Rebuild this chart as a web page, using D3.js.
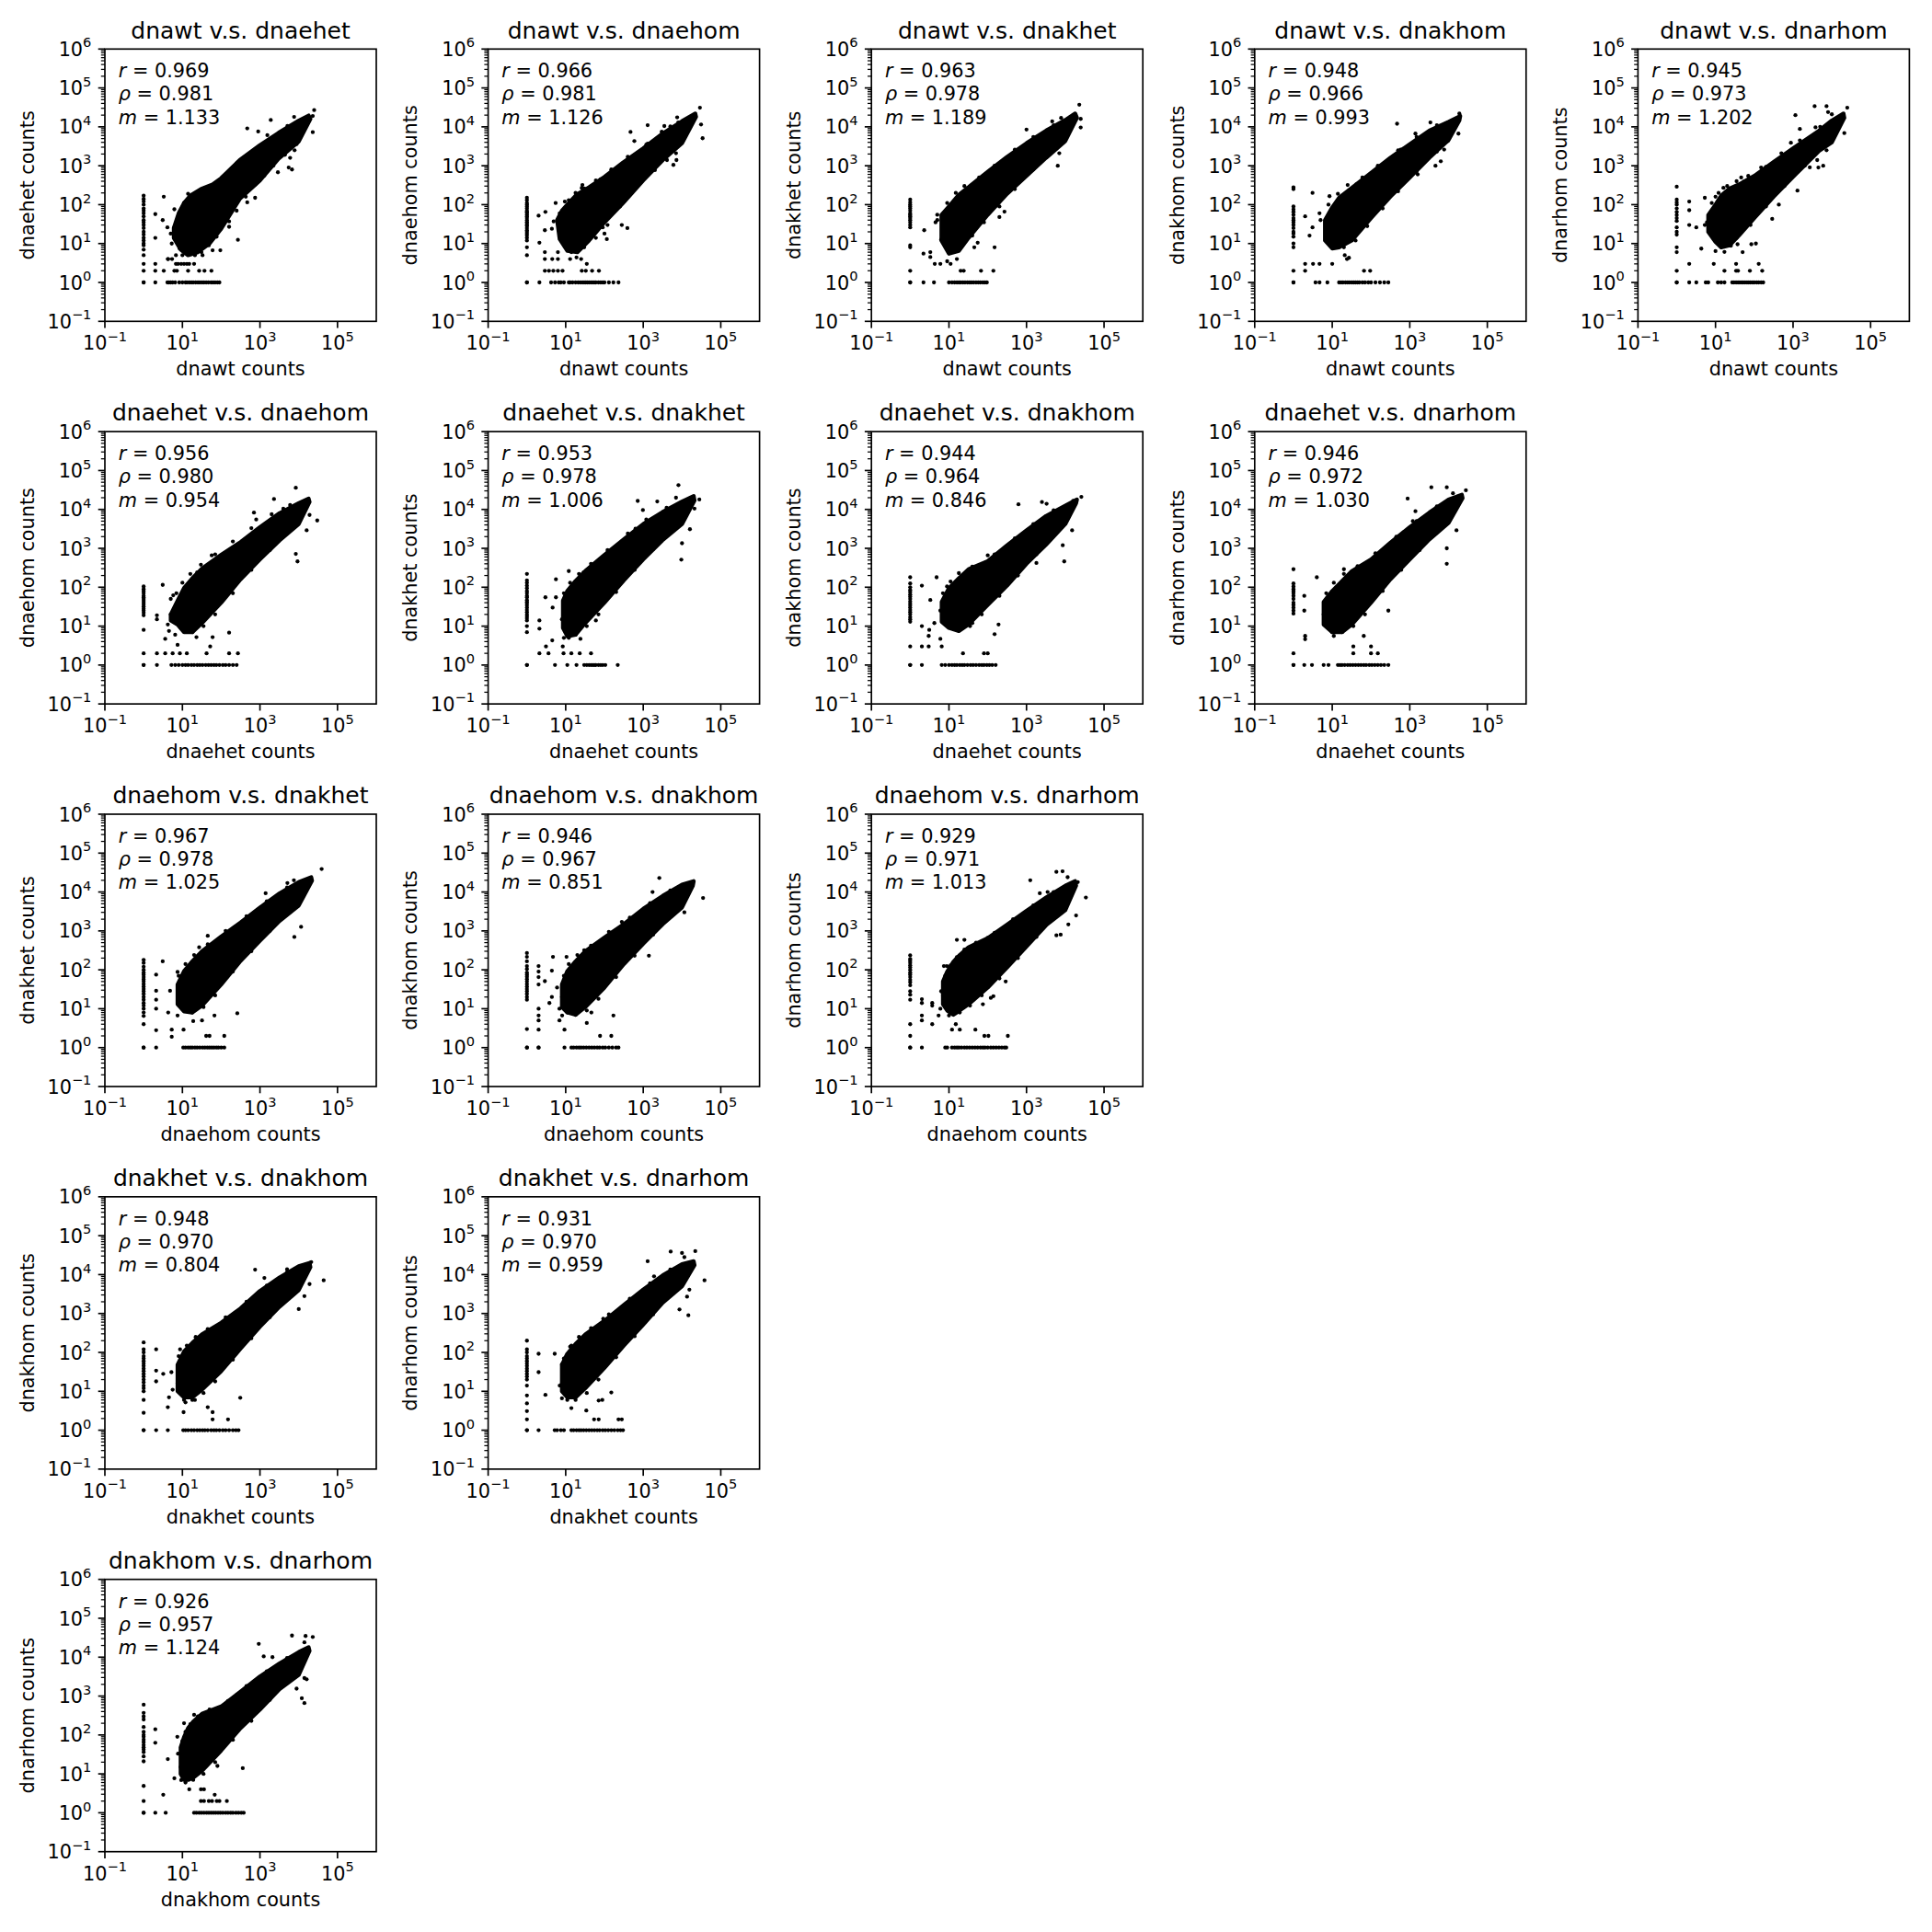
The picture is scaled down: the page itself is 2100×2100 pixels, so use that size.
<!DOCTYPE html>
<html><head><meta charset="utf-8">
<script src="https://cdn.jsdelivr.net/npm/d3@7"></script>
<style>body{margin:0;background:#fff} text{font-family:"DejaVu Sans";fill:#000}</style>
</head><body>
<svg id="chart" width="2100" height="2100" xmlns="http://www.w3.org/2000/svg"></svg>
<script>
// ---------------- data ----------------
const xNames = ["dnawt","dnawt","dnawt","dnawt","dnawt","dnaehet","dnaehet","dnaehet","dnaehet","dnaehom","dnaehom","dnaehom","dnakhet","dnakhet","dnakhom"];
const yNames = ["dnaehet","dnaehom","dnakhet","dnakhom","dnarhom","dnaehom","dnakhet","dnakhom","dnarhom","dnakhet","dnakhom","dnarhom","dnakhom","dnarhom","dnarhom"];
const rVals   = [0.969,0.966,0.963,0.948,0.945,0.956,0.953,0.944,0.946,0.967,0.946,0.929,0.948,0.931,0.926];
const rhoVals = [0.981,0.981,0.978,0.966,0.973,0.980,0.978,0.964,0.972,0.978,0.967,0.971,0.970,0.970,0.957];
const mVals   = [1.133,1.126,1.189,0.993,1.202,0.954,1.006,0.846,1.030,1.025,0.851,1.013,0.804,0.959,1.124];
const panelRow = [0,0,0,0,0,1,1,1,1,2,2,2,3,3,4];
const panelCol = [0,1,2,3,4,0,1,2,3,0,1,2,0,1,0];
const yTickVals = [0.1,1,10,100,1e3,1e4,1e5,1e6];
const xTickVals = [0.1,10,1e3,1e5];

// dense core of each point cloud (outline, in counts)
const denseCore = [
 [[6,25],[8,60],[11,110],[16,170],[30,250],[60,330],[100,480],[300,1400],[1000,3400],[3000,7000],[10000,14500],[18000,19500],[20000,16000],[10000,4200],[3000,1500],[1000,420],[300,140],[100,24],[50,10],[25,6],[14,5],[9,7],[6,14]],
 [[6,40],[8,70],[11,100],[19,180],[40,280],[100,520],[300,1200],[1000,2800],[3200,6800],[10000,14000],[22000,22000],[23000,18000],[10000,3800],[3200,1400],[1000,420],[300,110],[100,35],[40,12],[20,6],[11,6.5],[7,13]],
 [[6.4,54],[10,90],[18,180],[32,280],[100,700],[316,1700],[1000,3800],[3200,8000],[10000,15000],[18000,22000],[20000,17000],[10000,4300],[3200,1600],[1000,550],[316,190],[100,55],[32,14],[18,6.5],[10,5.5],[6.4,12]],
 [[6.5,40],[10,85],[15,150],[32,270],[100,650],[316,1600],[1000,3600],[3200,8000],[10000,13500],[20000,19000],[19000,14500],[10000,4600],[3200,1600],[1000,500],[316,160],[100,45],[32,12],[15,8],[10,7.5],[6.5,12]],
 [[6.5,54],[10,100],[14,170],[23,260],[40,330],[100,550],[316,1250],[1000,2800],[4700,8000],[10000,14500],[20000,22000],[21000,17000],[10000,4000],[4700,2400],[1000,520],[316,160],[100,45],[40,16],[23,9],[14,8],[10,11],[6.5,20]],
 [[5,20],[7.5,45],[11,95],[18,170],[32,300],[100,680],[316,1450],[1000,3500],[3200,8000],[10000,14500],[18000,19000],[19000,15500],[10000,4200],[3200,1600],[1000,520],[316,160],[100,40],[32,12],[18,7],[11,7],[7.5,11],[5,14]],
 [[8.5,45],[11,80],[18,145],[32,260],[100,680],[316,1700],[1000,4200],[3100,8500],[10000,16000],[20000,22000],[21000,17000],[10000,4200],[3100,1600],[1000,520],[316,150],[100,40],[32,12],[18,6],[11,5.5],[8.5,9]],
 [[6.5,42],[10,95],[18,170],[32,290],[100,470],[316,1200],[1000,2900],[3200,6800],[10000,12500],[20000,18000],[19000,14500],[10000,4200],[3200,1250],[1000,400],[316,110],[100,35],[32,11],[18,7.5],[10,9],[6.5,13]],
 [[6,42],[10,80],[18,145],[32,260],[100,520],[316,1400],[1000,3500],[3200,8300],[10000,18000],[22000,24000],[23000,19500],[10000,4500],[3200,1700],[1000,520],[316,160],[100,40],[32,11],[18,7],[10,7],[6,11]],
 [[7.5,42],[11,92],[18,165],[32,300],[100,720],[316,1650],[1000,4000],[3200,9200],[10000,18000],[21000,24000],[22000,19500],[10000,4500],[3200,1800],[1000,560],[316,170],[100,42],[32,12],[18,8],[11,8.5],[7.5,13]],
 [[8,42],[11,92],[18,165],[32,300],[100,680],[316,1500],[1000,3700],[3200,8000],[10000,15500],[20000,19000],[19000,14500],[10000,4000],[3200,1500],[1000,470],[316,140],[100,35],[32,11],[18,7],[11,8],[8,11]],
 [[7,50],[9,90],[13,160],[19,240],[32,380],[100,650],[316,1450],[1000,3300],[3200,7200],[10000,14500],[18000,19000],[19000,14500],[10000,3400],[3200,1400],[1000,400],[316,115],[100,35],[32,13],[19,9],[13,7],[9,9],[7,13]],
 [[7.5,48],[11,105],[18,175],[32,290],[100,580],[316,1350],[1000,3800],[3200,8400],[10000,16500],[19000,20000],[20000,15500],[10000,4000],[3200,1500],[1000,460],[316,125],[100,33],[32,11],[18,7],[11,7],[7.5,10]],
 [[8,48],[11,92],[18,165],[32,290],[100,650],[316,1650],[1000,4100],[3200,9600],[10000,18500],[20000,22000],[21000,17500],[10000,5000],[3200,1900],[1000,520],[316,150],[100,40],[32,12],[18,7],[11,7],[8,10]],
 [[9,48],[11,88],[14,150],[19,220],[32,350],[100,540],[316,1300],[1000,3200],[3200,6900],[10000,13500],[18000,18000],[19000,14500],[10000,3500],[3200,1500],[1000,450],[316,150],[100,40],[32,12],[19,8],[14,7],[11,7],[9,10]]
];

// points scattered just outside the dense core [x, y]
const edgePts = [
 [[18,170],[30,200],[57,300],[85,380],[130,520],[220,770],[360,950],[620,1550],[1080,2400],[1900,4000],[3300,5400],[6100,8800],[8800,3600],[4400,1900],[2200,1000],[1300,560],[760,330],[430,160],[250,70],[160,37],[76,15],[48,9],[31,6],[7,15],[6.2,26],[8.5,55]],
 [[12,130],[18,200],[30,260],[60,420],[150,800],[400,1700],[1200,3500],[3000,7500],[8000,13000],[15000,12000],[5000,2600],[2000,1000],[600,260],[250,90],[120,30],[60,14],[30,8],[15,8],[8,25],[7,60]],
 [[9,110],[15,200],[25,300],[60,500],[150,1000],[500,2600],[1500,5500],[5000,11000],[12000,9000],[4000,2000],[1500,800],[500,250],[200,90],[80,35],[40,16],[20,9],[12,7],[7,20],[5,40]],
 [[8,100],[14,190],[25,320],[60,500],[150,1000],[500,2500],[1500,5500],[5000,11000],[14000,9500],[5000,2300],[1500,700],[500,220],[200,80],[80,28],[40,12],[20,8],[12,9],[7,20],[5,40]],
 [[8,110],[12,200],[20,300],[35,400],[70,550],[150,900],[500,2100],[1500,4500],[5000,10000],[13000,10000],[6000,3000],[2000,1000],[600,300],[200,90],[80,30],[35,14],[18,9],[9,14],[6,35]],
 [[7,70],[10,130],[16,220],[30,380],[70,700],[200,1500],[600,3300],[2000,7500],[6000,13000],[14000,10000],[5000,2800],[1800,900],[600,280],[200,70],[70,20],[35,10],[18,7],[9,9],[5,20]],
 [[9,70],[13,130],[22,220],[45,400],[120,900],[400,2400],[1200,5500],[4000,11000],[15000,11000],[5000,2700],[1800,950],[600,280],[200,75],[70,20],[35,10],[18,6],[12,5],[8,15]],
 [[7,70],[11,140],[18,230],[40,340],[150,700],[500,1800],[1500,4200],[5000,9500],[14000,9000],[5000,2200],[1800,700],[600,200],[200,60],[70,20],[35,10],[18,8],[10,10],[6,25]],
 [[7,70],[11,130],[20,220],[45,350],[130,750],[450,2000],[1500,5000],[5000,12000],[15000,12000],[5000,2800],[1800,900],[600,280],[200,80],[70,20],[35,10],[18,7],[10,7],[6,20]],
 [[8,70],[12,140],[20,240],[45,450],[130,1000],[450,2400],[1500,5800],[5000,13000],[15000,11000],[5000,2800],[1800,1000],[600,300],[200,90],[70,22],[35,11],[18,8],[11,9],[8,22]],
 [[9,70],[12,140],[20,240],[45,420],[130,950],[450,2200],[1500,5200],[5000,11000],[14000,9000],[5000,2500],[1800,800],[600,230],[200,65],[70,18],[35,9],[18,7],[11,8],[8,20]],
 [[8,70],[11,130],[16,210],[25,330],[50,500],[150,900],[450,2000],[1500,4500],[5000,10000],[14000,9000],[5000,2200],[1800,700],[600,200],[200,60],[70,22],[35,12],[19,8],[10,9],[7,22]],
 [[8,80],[13,150],[22,250],[45,400],[130,800],[450,2000],[1500,5200],[5000,11500],[14000,10000],[5000,2400],[1800,800],[600,230],[200,65],[70,18],[35,9],[18,6],[11,6],[7.5,16]],
 [[9,70],[13,140],[22,250],[45,420],[130,950],[450,2400],[1500,6000],[5000,13500],[15000,11000],[5000,3000],[1800,950],[600,260],[200,75],[70,20],[35,9],[18,6],[11,6],[8,16]],
 [[10,70],[12,120],[16,190],[25,300],[50,450],[150,750],[450,1800],[1500,4300],[5000,9500],[14000,9000],[5000,2300],[1800,800],[600,230],[200,75],[70,20],[35,10],[19,7],[12,6],[9,15]]
];

// individual outlying points [x, y]
const scatterPts = [
 [[470,9100],[900,7600],[1900,15000],[1550,6100],[7600,18000],[5100,10500],[8300,3700],[7800,2500],[6000,1600],[6700,800],[2900,680],[5500,900],[23000,7300],[25000,27000],[23000,19000],[250,840],[140,490],[52,270],[14,190],[20,150],[3.3,160],[2,57],[6.2,76],[11,110],[4.1,26],[2,14],[3.1,40],[5,18],[5.3,10],[8,10],[8.5,7.4],[270,12.5],[160,27],[95,6.7],[60,6.7],[33,5],[21,5],[10,5],[4.2,4],[6.8,5],[11,7.4],[140,66],[470,115],[750,150],[2,3],[6.8,3],[7.7,3],[9.3,3],[11,3],[13,3],[15,3],[20,3],[2,2],[3.3,2],[6.2,2],[7.2,2],[14,2],[27,2],[37,2],[56,2],[4.3,4],[5.4,4]],
 [[470,7400],[590,4300],[1300,11000],[1300,3700],[3500,10500],[5000,10200],[7500,17500],[29000,31000],[31000,11500],[34000,5100],[7000,2100],[7200,1400],[6000,1050],[4100,1400],[2000,770],[280,30],[390,25],[100,18],[115,13],[13,18],[14,6],[19,4.4],[35,3],[26,270],[27,320],[80,450],[280,580],[5.5,110],[9.5,120],[3,65],[2,52],[2.1,10.5],[2.9,22],[4.4,24],[4.9,37],[7,44],[10,10],[90,26],[2.9,2],[3.7,2],[4.8,2],[6.3,2],[8.3,2],[26,2],[33,2],[48,2],[72,2],[2.9,4],[4.5,4],[6.3,4],[13,4],[25,4],[2.9,6],[6.3,6]],
 [[1000,8500],[750,3000],[320,910],[150,480],[20,160],[7800,17000],[23000,37000],[25000,16000],[25000,9600],[4600,13800],[6400,1000],[7000,2100],[8200,4300],[270,66],[200,48],[2.3,22],[4.5,35],[5,55],[6.3,12.6],[55,10.5],[150,8],[45,8],[2.2,5.5],[3.3,6],[3.3,4.5],[6,3],[11,3],[4.3,3],[16,4],[9,3.5],[20,2],[24,2],[67,2],[140,2]],
 [[66,2],[95,2],[2,3],[3.2,3],[4.7,3],[10,3],[27,4.3],[2.6,16],[3.1,26],[2,50],[3.1,200],[8.5,165],[4.7,60],[21,5],[24,4],[470,12000],[1400,6700],[1600,4300],[3400,13000],[580,2600],[260,1000],[100,480],[42,330],[19000,22000],[18000,6700],[9600,4300],[7700,2600],[6300,1300],[4600,1000],[1600,600],[2,2]],
 [[2.1,120],[2.1,72],[2.1,30],[3.2,26],[5.3,150],[4.3,7.4],[5.3,30],[10,160],[16,270],[10,6.4],[17,6.1],[25,8.8],[50,6],[84,9.6],[110,10],[37,9.6],[34,14],[1150,20000],[1500,8800],[3600,34000],[7300,34000],[8000,24000],[10000,21000],[25000,31000],[21000,6900],[3800,9700],[880,3900],[300,870],[200,930],[46,500],[54,390],[7300,2500],[6000,1000],[4200,1400],[4500,900],[2700,910],[1300,230],[290,43],[430,100],[17,2],[34,2],[38,2],[77,2],[160,2],[2.1,3],[9,3],[34,3],[130,3]],
 [[2.2,19],[2.2,15],[3.1,115],[5,50],[4.2,11],[4.5,7.5],[6.5,6],[8.6,10],[13,8.2],[23,5.2],[60,5.2],[52,3],[160,6.8],[700,8300],[800,5500],[2300,18500],[4000,10400],[8400,36000],[8400,720],[9300,460],[16000,2900],[30000,5200],[19000,7200],[57,660],[24,240],[5.8,62],[3.6,4.7],[7.5,3.3],[2.2,2],[3.6,2],[5.6,2],[8.6,2],[13,2],[42,2],[160,2],[270,2]],
 [[2.1,2],[3.6,2],[8.8,2],[14,2],[23,2],[45,2],[3.1,3],[8.4,3],[4.5,4.3],[9,5],[24,4.7],[2.1,14],[2.1,8.6],[3,55],[5.6,55],[4.6,30],[12,260],[29,240],[5.6,160],[60,14],[720,16500],[980,9600],[2300,16000],[2700,2900],[630,3200],[8100,42000],[7000,20000],[28000,18000],[21000,10500],[16000,3100],[10000,1350],[9600,510]],
 [[23,2],[80,2],[100,2],[2,10],[2,3],[3,3],[3,5.6],[3.1,8],[6,4.7],[6.5,3],[4.2,12],[2,110],[4.8,180],[3.3,47],[8.9,105],[150,6.2],[190,11],[40,12],[620,13500],[2500,15500],[3300,14000],[26000,21000],[16000,16500],[15000,2900],[8600,1200],[9400,460],[1800,420],[100,660]],
 [[35,2],[100,2],[150,2],[35,3],[100,3],[2,5.6],[2,4.6],[65,5.6],[11,5.6],[1.9,60],[1.9,25],[4,180],[20,290],[880,19000],[1400,9000],[3600,37000],[9000,37000],[13000,26000],[28000,31000],[8000,12000],[1200,5000],[130,600],[16000,2900],[9000,1000],[9000,400],[280,25]],
 [[41,2],[50,2],[120,2],[2.1,75],[2.1,29],[2.1,17],[2.1,10],[2.1,2.8],[3.1,165],[4.8,29],[4.3,8],[5.3,2.9],[5.3,1.9],[7.5,6.7],[10.7,2.9],[19,4.8],[32,5],[67,6.7],[260,7.6],[7.5,88],[27,380],[45,750],[1400,9300],[5100,17000],[7500,20000],[39000,39000],[11500,1270],[7700,700],[140,260]],
 [[2,125],[2,90],[2,65],[2,42],[2,10],[2,6.7],[2,5],[2,2.9],[2,1],[77,2],[150,2],[9.3,2.9],[35,4.3],[4.7,215],[10.5,215],[4.4,95],[2.9,51],[6,35],[4.4,20],[3.8,14],[6.9,10],[8.1,6.7],[6.9,5],[170,6.7],[46,8],[2600,23000],[1740,10000],[280,1700],[170,700],[30,320],[35000,7000],[10000,4400],[11500,3000],[1400,230]],
 [[2,17.6],[2,14],[2,6.7],[2,5],[82,2],[104,2],[330,2],[12,2.9],[19,2.9],[48,2.9],[15,4],[3.7,14],[3.7,12],[3.7,4],[5.4,6.7],[10,6.7],[6,10],[7.4,125],[8.8,125],[16,590],[25,590],[28,290],[8.8,80],[6.3,28],[75,13],[120,19],[140,21],[290,50],[1250,20000],[2200,9300],[3500,10000],[5900,33000],[8500,34000],[11500,24000],[21000,18000],[34000,7200],[19000,2500],[12000,1470],[7600,800],[5900,770],[1100,3200],[380,1400],[180,700],[100,660]],
 [[60,1.9],[150,1.9],[2.1,120],[2.1,34],[2.1,18],[4.5,7],[4.2,3.9],[10.7,2.9],[12,5.2],[21,6],[45,3.9],[60,2.9],[310,6.8],[5.6,11],[5.2,31],[3.2,28],[8.7,120],[24,230],[750,13400],[1300,8200],[5000,13600],[21000,21000],[44000,7100],[19000,5700],[14000,2800],[10000,1300],[120,520]],
 [[54,1.9],[71,1.9],[230,1.9],[280,1.9],[2,92],[2,31],[3,8.1],[7,14],[8,6.6],[14,3.7],[26,10],[34,3.2],[71,5.8],[88,6],[150,9.3],[5.2,92],[8,49],[14,150],[93,730],[1300,22000],[1900,9000],[5100,39000],[10000,36000],[11500,28000],[22000,40000],[38000,7100],[15500,4100],[13500,2700],[8600,1270],[14600,900]],
 [[2,140],[2,63],[30,2],[36,2],[48,2],[58,2],[77,2],[90,2],[140,2],[3.2,2.9],[68,2.9],[15,4],[30,4],[36,4],[4.2,24],[6.2,7.7],[9.3,6.9],[7.4,90],[11,200],[20,330],[31,310],[80,16],[360,14],[7.7,33],[930,22000],[1250,10500],[2100,10000],[6700,36000],[15000,35000],[23000,33000],[14000,24000],[14000,2900],[16000,2700],[8800,1550],[12000,880],[14000,660]]
];

// y values of points with x = 1
const zeroColumn = [
 [1,2,3,5,7,9,10,12,14,17,20,25,30,35,40,50,60,70,80,100,120,140,170],
 [1,5,8,12,14,16,18,20,22,25,28,30,33,36,40,45,50,55,60,65,70,80,90,100,110,130,150],
 [1,2,8,9,26,30,35,40,45,50,55,60,70,80,90,100,115,135],
 [1,2,8,10,15,18,20,25,30,35,40,45,55,65,75,90,250,280],
 [1,2,6,8,17,20,26,38,45,54,65,80,100,115,135,290],
 [1,2,8,19,22,25,28,32,36,40,45,50,55,60,70,80,90,105],
 [1,7,10,14,16,18,20,23,26,30,34,38,42,47,55,60,70,80,95,110,130,150,220],
 [1,3,13,15,17,20,23,26,30,34,38,43,50,57,65,75,85,100,125,180],
 [1,2,21,25,30,35,40,50,60,70,80,90,105,125,290],
 [1,4,6.5,8,10,12,14,17,20,24,28,32,37,43,50,57,65,75,85,100,120,150,180],
 [1,3,17,20,24,28,32,37,43,50,58,66,75,85,105,125,165,215,270],
 [1,2,4,17,23,28,40,48,55,65,75,85,100,115,130,150,170,190,235],
 [1,2.8,6,10,12,14,17,20,24,28,33,38,45,52,60,70,80,100,120,180],
 [1,1.9,3.1,4.9,7.8,14,20,24,28,33,38,45,52,60,70,80,100,120,200],
 [1,2,4.9,21,28,36,42,48,55,65,76,90,100,120,160,250,300,370,600]
];

// x values of points with y = 1
const oneRow = [
 [1,2,4.1,4.5,5,5.6,6.5,8.3,10,12,13,15,17,19,22,25,28,32,36,41,47,55,62,70,80,90],
 [1,2.1,4.2,5.3,6.6,7.5,9,12,13,15,18,21,24,27,30,33,36,40,45,50,55,60,70,80,90,100,130,170,230],
 [1,2.2,4.1,10,12,14,16,18,20,23,26,30,34,38,43,50,57,65,75,85,95],
 [1,3.7,4.7,7.5,15,17,19,22,25,28,32,36,40,45,50,60,70,85,100,130,170,220,280],
 [1,2.1,3.2,5.6,6.5,11.5,14,17,27,30,34,38,42,47,52,58,65,72,80,90,100,115,130,150,170],
 [1,2.2,5.2,6.5,8,10,12,14,17,20,24,28,33,40,47,55,65,75,90,110,130,160,200,250],
 [1,5.3,11,19,30,35,40,45,50,55,60,70,80,90,105,220],
 [1,2,6.5,8,10,12,14,16,19,22,25,30,36,42,50,60,70,80,95,110,130,160],
 [1,1.9,3,6,8,14,16,18,21,25,29,34,40,47,55,65,75,90,105,125,150,180,220,280],
 [1,2.1,10.5,12,14,16,18,21,24,28,33,38,44,50,57,65,75,85,100,120],
 [1,2,9.3,14,16,19,22,25,29,34,40,47,55,65,75,90,105,130,160,200,230],
 [1,2,8,9,12,14,16,18,21,25,29,34,40,47,55,65,75,85,100,120,140,165,195,230,270,300],
 [1,2.1,4.2,10.5,12,14,17,20,24,28,33,38,45,55,65,75,90,110,130,160,200,240,280],
 [1,2,5.2,6,7.5,9,14,16,19,22,25,29,34,40,47,55,65,75,90,105,125,150,180,220,260,300],
 [1,2,3.7,20,23,27,31,36,42,48,55,63,72,83,95,110,130,150,175,200,240,280,330,380]
];

// ---------------- drawing ----------------
const svg = d3.select("#chart");
const W = 295, H = 296;
const colStep = 416.6, rowStep = 415.85, left0 = 114, top0 = 53.3;
const FS = 20.8, SUP = 14.6, LW = 1.67, DOT = 2.15;

const x = d3.scaleLog().domain([0.1, 1e6]).range([0, W]);
const y = d3.scaleLog().domain([0.1, 1e6]).range([H, 0]);
const exp = v => Math.round(Math.log10(v));
const supText = v => { const e = exp(v); return e < 0 ? "\u2212" + Math.abs(e) : String(e); };
const line = d3.line().x(d => x(d[0])).y(d => y(d[1])).curve(d3.curveLinearClosed);

function tickLabel(sel, v) {
  sel.append("tspan").text("10");
  sel.append("tspan").attr("font-size", SUP).attr("dy", -9.5).text(supText(v));
}

xNames.forEach((xn, i) => {
  const L = left0 + panelCol[i] * colStep, T = top0 + panelRow[i] * rowStep;
  const g = svg.append("g").attr("transform", `translate(${L},${T})`);

  // data marks
  const plot = g.append("g");
  plot.append("path").datum(denseCore[i]).attr("d", line)
    .attr("fill", "#000").attr("stroke", "#000").attr("stroke-width", DOT * 2).attr("stroke-linejoin", "round");
  const pts = edgePts[i]
    .concat(scatterPts[i])
    .concat(zeroColumn[i].map(v => [1, v]))
    .concat(oneRow[i].map(v => [v, 1]));
  plot.selectAll("circle").data(pts).join("circle")
    .attr("cx", d => x(d[0])).attr("cy", d => y(d[1])).attr("r", DOT).attr("fill", "#000");

  // y axis ticks
  const yMinor = [];
  for (let e = -1; e < 6; e++) for (let k = 2; k <= 9; k++) yMinor.push(k * Math.pow(10, e));
  g.selectAll("line.ymin").data(yMinor).join("line").attr("class", "ymin")
    .attr("x1", -4.2).attr("x2", 0).attr("y1", d => y(d)).attr("y2", d => y(d))
    .attr("stroke", "#000").attr("stroke-width", 1.25);
  g.selectAll("line.ymaj").data(yTickVals).join("line").attr("class", "ymaj")
    .attr("x1", -7.3).attr("x2", 0).attr("y1", d => y(d)).attr("y2", d => y(d))
    .attr("stroke", "#000").attr("stroke-width", LW);
  g.selectAll("text.ylab").data(yTickVals).join("text").attr("class", "ylab")
    .attr("x", -14.6).attr("y", d => y(d) + 7.6).attr("text-anchor", "end").attr("font-size", FS)
    .each(function(d) { tickLabel(d3.select(this), d); });

  // x axis ticks
  g.selectAll("line.xmaj").data(xTickVals).join("line").attr("class", "xmaj")
    .attr("y1", H).attr("y2", H + 7.3).attr("x1", d => x(d)).attr("x2", d => x(d))
    .attr("stroke", "#000").attr("stroke-width", LW);
  g.selectAll("text.xlab").data(xTickVals).join("text").attr("class", "xlab")
    .attr("x", d => x(d)).attr("y", H + 31).attr("text-anchor", "middle").attr("font-size", FS)
    .each(function(d) { tickLabel(d3.select(this), d); });

  // frame
  g.append("rect").attr("x", 0).attr("y", 0).attr("width", W).attr("height", H)
    .attr("fill", "none").attr("stroke", "#000").attr("stroke-width", LW);

  // labels
  g.append("text").attr("x", W / 2).attr("y", H + 59).attr("text-anchor", "middle")
    .attr("font-size", FS).text(xn + " counts");
  g.append("text").attr("transform", `translate(-77.3,${H / 2}) rotate(-90)`).attr("text-anchor", "middle")
    .attr("font-size", FS).text(yNames[i] + " counts");
  g.append("text").attr("x", W / 2).attr("y", -11.7).attr("text-anchor", "middle")
    .attr("font-size", 25).text(xn + " v.s. " + yNames[i]);

  // stats annotation
  const stats = [["r", rVals[i]], ["\u03c1", rhoVals[i]], ["m", mVals[i]]];
  stats.forEach((s, j) => {
    const t = g.append("text").attr("x", 0.05 * W).attr("y", 31 + j * 25.2).attr("font-size", FS);
    t.append("tspan").attr("font-style", "italic").text(s[0]);
    t.append("tspan").text(" = " + s[1].toFixed(3));
  });
});
</script>
</body></html>
